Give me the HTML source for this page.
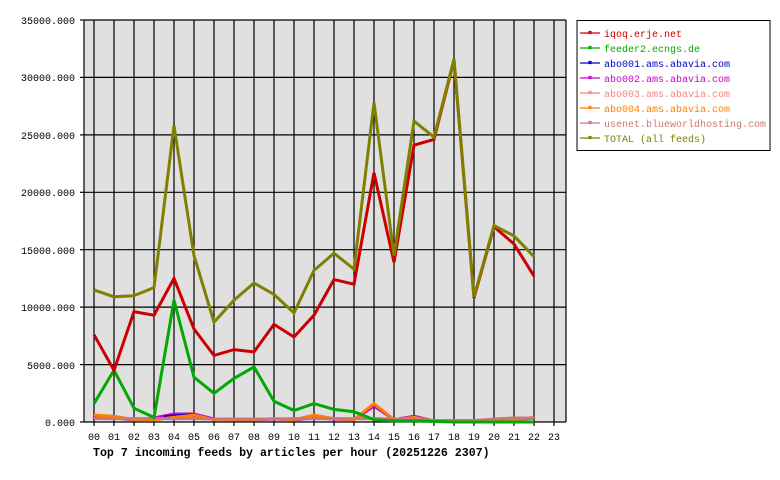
<!DOCTYPE html>
<html><head><meta charset="utf-8"><style>
body{margin:0;background:#fff;}
svg{display:block;font-family:"Liberation Mono","DejaVu Sans Mono",monospace;}
</style></head><body>
<svg width="780" height="480" viewBox="0 0 780 480">
<rect x="84" y="20" width="482" height="402" fill="#e0e0e0"/>
<g stroke="#000" stroke-width="1.2">
<line x1="84" y1="20" x2="566" y2="20"/>
<line x1="84" y1="77.4" x2="566" y2="77.4"/>
<line x1="84" y1="134.9" x2="566" y2="134.9"/>
<line x1="84" y1="192.3" x2="566" y2="192.3"/>
<line x1="84" y1="249.7" x2="566" y2="249.7"/>
<line x1="84" y1="307.1" x2="566" y2="307.1"/>
<line x1="84" y1="364.6" x2="566" y2="364.6"/>
<line x1="84" y1="422" x2="566" y2="422"/>
<line x1="80" y1="20" x2="84" y2="20"/><line x1="80" y1="77.4" x2="84" y2="77.4"/><line x1="80" y1="134.9" x2="84" y2="134.9"/><line x1="80" y1="192.3" x2="84" y2="192.3"/><line x1="80" y1="249.7" x2="84" y2="249.7"/><line x1="80" y1="307.1" x2="84" y2="307.1"/><line x1="80" y1="364.6" x2="84" y2="364.6"/><line x1="80" y1="422" x2="84" y2="422"/>
<line x1="84" y1="20" x2="84" y2="422"/><line x1="566" y1="20" x2="566" y2="422"/>
<line x1="94" y1="20" x2="94" y2="426"/><line x1="114" y1="20" x2="114" y2="426"/><line x1="134" y1="20" x2="134" y2="426"/><line x1="154" y1="20" x2="154" y2="426"/><line x1="174" y1="20" x2="174" y2="426"/><line x1="194" y1="20" x2="194" y2="426"/><line x1="214" y1="20" x2="214" y2="426"/><line x1="234" y1="20" x2="234" y2="426"/><line x1="254" y1="20" x2="254" y2="426"/><line x1="274" y1="20" x2="274" y2="426"/><line x1="294" y1="20" x2="294" y2="426"/><line x1="314" y1="20" x2="314" y2="426"/><line x1="334" y1="20" x2="334" y2="426"/><line x1="354" y1="20" x2="354" y2="426"/><line x1="374" y1="20" x2="374" y2="426"/><line x1="394" y1="20" x2="394" y2="426"/><line x1="414" y1="20" x2="414" y2="426"/><line x1="434" y1="20" x2="434" y2="426"/><line x1="454" y1="20" x2="454" y2="426"/><line x1="474" y1="20" x2="474" y2="426"/><line x1="494" y1="20" x2="494" y2="426"/><line x1="514" y1="20" x2="514" y2="426"/><line x1="534" y1="20" x2="534" y2="426"/><line x1="554" y1="20" x2="554" y2="426"/>
</g>
<g font-size="10" text-anchor="end" fill="#000">
<text x="75" y="24">35000.000</text><text x="75" y="81">30000.000</text><text x="75" y="139">25000.000</text><text x="75" y="196">20000.000</text><text x="75" y="254">15000.000</text><text x="75" y="311">10000.000</text><text x="75" y="369">5000.000</text><text x="75" y="426">0.000</text>
</g>
<g font-size="10" text-anchor="middle" fill="#000">
<text x="94" y="440">00</text><text x="114" y="440">01</text><text x="134" y="440">02</text><text x="154" y="440">03</text><text x="174" y="440">04</text><text x="194" y="440">05</text><text x="214" y="440">06</text><text x="234" y="440">07</text><text x="254" y="440">08</text><text x="274" y="440">09</text><text x="294" y="440">10</text><text x="314" y="440">11</text><text x="334" y="440">12</text><text x="354" y="440">13</text><text x="374" y="440">14</text><text x="394" y="440">15</text><text x="414" y="440">16</text><text x="434" y="440">17</text><text x="454" y="440">18</text><text x="474" y="440">19</text><text x="494" y="440">20</text><text x="514" y="440">21</text><text x="534" y="440">22</text><text x="554" y="440">23</text>
</g>
<text x="93" y="456" font-size="11.6" font-weight="bold" fill="#000">Top 7 incoming feeds by articles per hour (20251226 2307)</text>
<g fill="none" stroke-width="3" stroke-linejoin="miter">
<polyline stroke="#cc00cc" points="94,417 114,418 134,419.7 154,418 174,414 194,414 214,419 234,419.7 254,419.7 274,419 294,419.7 314,418 334,419 354,419.7 374,406 394,419.7 414,416.3 434,421 454,421 474,421 494,420 514,419.7 534,418"/>
<polyline stroke="#0000cc" points="164,417 174,416 194,415 204,418"/>
<polyline stroke="#ff8000" points="94,415.1 114,416.3 134,419.7 154,419.7 174,417.4 194,415.1 214,419.7 234,419.7 254,419.7 274,418.6 294,419.7 314,415.1 334,418.6 354,419.7 374,403.6 394,419.7 414,417.4 434,421 454,421 474,421 494,421 514,419.7 534,417.4"/>
<polyline stroke="#cc7777" points="94,418.6 114,418.6 134,418.6 154,418.6 174,418.6 194,418.6 214,419 234,419 254,419 274,419 294,418.6 314,418.6 334,418.6 354,418.6 374,418.6 394,419 414,419 434,420.5 454,420.5 474,420.5 494,419 514,418 534,418"/>
<polyline stroke="#00aa00" points="94,403.6 114,370.3 134,408.2 154,417.4 174,300.2 194,377.2 214,393.3 234,378.4 254,366.9 274,401.3 294,410.5 314,403.6 334,409.4 354,411.7 374,419.7 394,420.9 414,420.9 434,421.4 454,422 474,422 494,422 514,422 534,422"/>
<polyline stroke="#cc0000" points="94,334.7 114,370.3 134,311.7 154,315.2 174,278.4 194,329 214,355.4 234,349.6 254,351.9 274,324.4 294,337 314,315.2 334,279.6 354,284.2 374,172.8 394,262.3 414,145.2 434,139.4 454,60.2 474,298 494,226.7 514,244 534,276.1"/>
<polyline stroke="#808000" points="94,289.9 114,296.8 134,295.7 154,287.6 174,125.7 194,255.5 214,322.1 234,300.2 254,283 274,294.5 294,312.9 314,270.4 334,253.2 354,269.2 374,102.7 394,255.5 414,121.1 434,137.1 454,59 474,296.8 494,225.6 514,235.9 534,256.6"/>
</g>
<rect x="577" y="20.5" width="193" height="130" fill="#fff" stroke="#000" stroke-width="1"/>
<g font-size="10">
<g stroke-width="1.2" fill="none">
<line x1="580" y1="33" x2="600" y2="33" stroke="#cc0000"/><rect x="589" y="31.5" width="2" height="2" stroke="#cc0000"/>
<line x1="580" y1="48" x2="600" y2="48" stroke="#00aa00"/><rect x="589" y="46.5" width="2" height="2" stroke="#00aa00"/>
<line x1="580" y1="63" x2="600" y2="63" stroke="#0000cc"/><rect x="589" y="61.5" width="2" height="2" stroke="#0000cc"/>
<line x1="580" y1="78" x2="600" y2="78" stroke="#cc00cc"/><rect x="589" y="76.5" width="2" height="2" stroke="#cc00cc"/>
<line x1="580" y1="93" x2="600" y2="93" stroke="#ff8080"/><rect x="589" y="91.5" width="2" height="2" stroke="#ff8080"/>
<line x1="580" y1="108" x2="600" y2="108" stroke="#ff8000"/><rect x="589" y="106.5" width="2" height="2" stroke="#ff8000"/>
<line x1="580" y1="123" x2="600" y2="123" stroke="#cc7777"/><rect x="589" y="121.5" width="2" height="2" stroke="#cc7777"/>
<line x1="580" y1="138" x2="600" y2="138" stroke="#808000"/><rect x="589" y="136.5" width="2" height="2" stroke="#808000"/>
</g>
<text x="604" y="37" fill="#cc0000">iqoq.erje.net</text>
<text x="604" y="52" fill="#00aa00">feeder2.ecngs.de</text>
<text x="604" y="67" fill="#0000cc">abo001.ams.abavia.com</text>
<text x="604" y="82" fill="#cc00cc">abo002.ams.abavia.com</text>
<text x="604" y="97" fill="#ff8080">abo003.ams.abavia.com</text>
<text x="604" y="112" fill="#ff8000">abo004.ams.abavia.com</text>
<text x="604" y="127" fill="#cc7777">usenet.blueworldhosting.com</text>
<text x="604" y="142" fill="#808000">TOTAL (all feeds)</text>
</g>
</svg>
</body></html>
